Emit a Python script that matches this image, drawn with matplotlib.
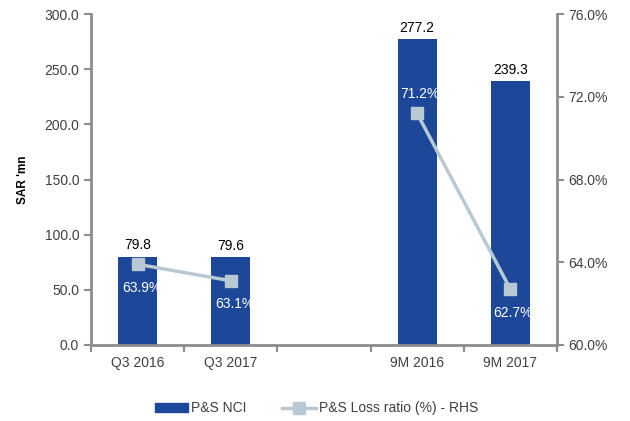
import numpy as np
import matplotlib.pyplot as plt
from matplotlib.lines import Line2D
from matplotlib.patches import Patch

# chart data (position 2 is an empty spacer category)
categories = ['Q3 2016', 'Q3 2017', '', '9M 2016', '9M 2017']
nci = [79.8, 79.6, np.nan, 277.2, 239.3]
loss_ratio = [63.9, 63.1, np.nan, 71.2, 62.7]
y_ticks = [0, 50, 100, 150, 200, 250, 300]
y2_ticks = [60, 64, 68, 72, 76]

plt.rcParams['font.family'] = ['Liberation Sans', 'DejaVu Sans']
bar_color = '#1d4899'
line_color = '#b9c9d3'
spine_color = '#8c8c8c'
text_color = '#404040'

fig = plt.figure(figsize=(6.3, 4.21), dpi=100)
ax = fig.add_axes([0.1444, 0.181, 0.7396, 0.785])
ax2 = ax.twinx()

x = np.arange(len(categories))
ax.bar(x, nci, width=0.42, color=bar_color, zorder=2)
for xi, v in zip(x, nci):
    if not np.isnan(v):
        ax.text(xi, v + 4, f'{v:.1f}', ha='center', va='bottom', fontsize=10, color='black')

ax2.plot(x, loss_ratio, '-', color=line_color, linewidth=2.5, marker='s',
         markersize=9, zorder=3)
# label offsets in points (above for 9M 2016, below for the others)
offs = [(3, -17), (3, -17), (0, 0), (2, 14), (2, -17)]
for xi, v, (dx, dy) in zip(x, loss_ratio, offs):
    if not np.isnan(v):
        ax2.annotate(f'{v:.1f}%', (xi, v), xytext=(dx, dy), textcoords='offset points',
                     ha='center', va='center', fontsize=10, color='white', zorder=4)

ax.set_xlim(-0.5, 4.5)
ax.set_ylim(0, 300)
ax2.set_ylim(60, 76)
ax.set_yticks(y_ticks)
ax.set_yticklabels([f'{t:.1f}' for t in y_ticks])
ax2.set_yticks(y2_ticks)
ax2.set_yticklabels([f'{t:.1f}%' for t in y2_ticks])

# category labels at centres, tick marks at boundaries
ax.set_xticks(np.arange(-0.5, 5, 1))
ax.set_xticklabels([])
ax.set_xticks([0, 1, 3, 4], minor=True)
ax.set_xticklabels([categories[i] for i in [0, 1, 3, 4]], minor=True)
ax.tick_params(axis='x', which='minor', length=0, pad=8, labelsize=10, labelcolor=text_color)
ax.tick_params(axis='x', which='major', length=5, width=1.5, color=spine_color)
ax.tick_params(axis='y', length=5, width=1.5, color=spine_color, labelsize=10, labelcolor=text_color)
ax2.tick_params(axis='y', length=5, width=1.5, color=spine_color, labelsize=10, labelcolor=text_color)

for a in (ax, ax2):
    a.spines['top'].set_visible(False)
    for s in ('left', 'right', 'bottom'):
        a.spines[s].set_color(spine_color)
        a.spines[s].set_linewidth(2)
ax.spines['right'].set_visible(False)
ax2.spines['left'].set_visible(False)
ax2.spines['bottom'].set_visible(False)

ax.set_ylabel("SAR 'mn", fontsize=8.5, fontweight='bold', labelpad=11, color='black')

handles = [Patch(color=bar_color, label='P&S NCI'),
           Line2D([0], [0], color=line_color, linewidth=2.5, marker='s', markersize=8,
                  label='P&S Loss ratio (%) - RHS')]
leg = fig.legend(handles=handles, loc='center', bbox_to_anchor=(0.502, 0.03), ncol=2,
                 frameon=False, fontsize=10, handlelength=2.4, handleheight=0.6,
                 columnspacing=2.6, handletextpad=0.2)
for t in leg.get_texts():
    t.set_color(text_color)

plt.savefig('out.png', dpi=100)
